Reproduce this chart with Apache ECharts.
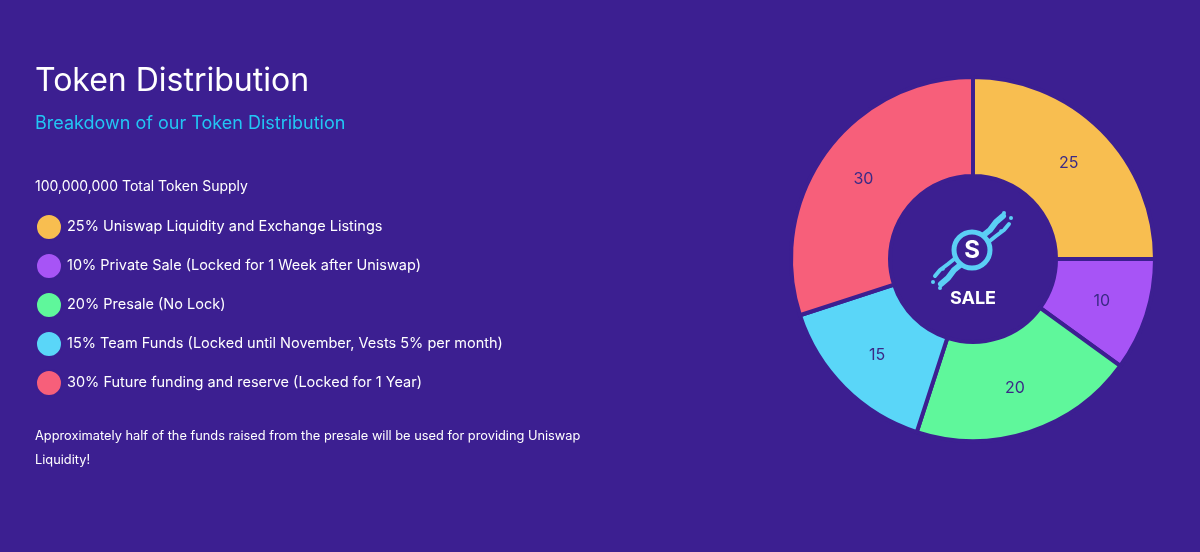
<!DOCTYPE html>
<html>
<head>
<meta charset="utf-8">
<script src="https://cdn.jsdelivr.net/npm/echarts@6/dist/echarts.min.js"></script>
<style>
  html, body { margin: 0; padding: 0; background: #3c1f91; }
  #chart { width: 1200px; height: 552px; }
</style>
</head>
<body>
<div id="chart"></div>
<script>
// ---- data ----
const categories = [
  'Uniswap Liquidity and Exchange Listings',
  'Private Sale (Locked for 1 Week after Uniswap)',
  'Presale (No Lock)',
  'Team Funds (Locked until November, Vests 5% per month)',
  'Future funding and reserve (Locked for 1 Year)'
];
const values = [25, 10, 20, 15, 30];
const colors = ['#f8be50', '#a754f6', '#5ff79b', '#5ad6f8', '#f75f7a'];
const titleText = 'Token Distribution';
const subtitleText = 'Breakdown of our Token Distribution';
const supplyText = '100,000,000 Total Token Supply';
const noteLines = [
  'Approximately half of the funds raised from the presale will be used for providing Uniswap',
  'Liquidity!'
];
const centerLabel = 'SALE';

const BG = '#3c1f91';
const FONT = 'Inter, "Noto Sans", sans-serif';

const chart = echarts.init(document.getElementById('chart'), null, { renderer: 'canvas' });

const pieData = categories.map((c, i) => ({ name: c, value: values[i], itemStyle: { color: colors[i] } }));

const logoX = 972, logoY = 250;
const CY = '#5bcff5';
const trail = (pts, w) => ({
  type: 'polyline', shape: { points: pts },
  style: { stroke: CY, lineWidth: w || 3, fill: null, lineCap: 'round', lineJoin: 'round' }
});
const dot = (x, y, r) => ({ type: 'circle', shape: { cx: x, cy: y, r: r || 2 }, style: { fill: CY } });

const option = {
  backgroundColor: BG,
  animation: false,
  legend: {
    orient: 'vertical',
    left: 35,
    top: 213,
    padding: 0,
    icon: 'circle',
    itemWidth: 26,
    itemHeight: 26,
    itemGap: 11,
    selectedMode: false,
    data: categories,
    formatter: (name) => values[categories.indexOf(name)] + '% ' + name,
    textStyle: { color: '#ffffff', fontSize: 14.5, fontFamily: FONT, lineHeight: 26 }
  },
  series: [{
    type: 'pie',
    center: [973, 259],
    radius: [83, 182],
    startAngle: 90,
    clockwise: true,
    avoidLabelOverlap: false,
    silent: true,
    itemStyle: { borderColor: BG, borderWidth: 4 },
    label: {
      show: true,
      position: 'inside',
      formatter: '{c}',
      color: '#3b2a86',
      fontSize: 16,
      fontFamily: FONT
    },
    labelLine: { show: false },
    emphasis: { disabled: true },
    data: pieData
  }],
  graphic: [
    { type: 'text', left: 35, top: 65, style: { text: titleText, fill: '#ffffff', font: '400 32px ' + FONT } },
    { type: 'text', left: 35, top: 115, style: { text: subtitleText, fill: '#22c6f4', font: '400 18px ' + FONT } },
    { type: 'text', left: 35, top: 180, style: { text: supplyText, fill: '#ffffff', font: '400 14px ' + FONT } },
    { type: 'text', left: 35, top: 430, style: { text: noteLines[0], fill: '#ffffff', font: '400 12.8px ' + FONT } },
    { type: 'text', left: 35, top: 454, style: { text: noteLines[1], fill: '#ffffff', font: '400 12.8px ' + FONT } },
    // center logo
    trail([[980, 238], [990, 230], [996, 222], [1003, 216]], 6),
    trail([[986, 244], [996, 236], [1004, 230], [1009, 224]], 4),
    dot(1004, 213, 2), dot(1011, 218, 2), dot(998, 220, 1.8), dot(1001, 231, 1.8),
    trail([[964, 262], [954, 270], [948, 278], [941, 284]], 6),
    trail([[958, 256], [948, 264], [940, 270], [935, 276]], 4),
    dot(940, 288, 2), dot(933, 282, 2), dot(946, 280, 1.8), dot(943, 269, 1.8),
    { type: 'circle', shape: { cx: logoX, cy: logoY, r: 18 }, style: { fill: BG, stroke: CY, lineWidth: 5 } },
    { type: 'text', x: logoX, y: logoY + 1, style: { text: 'S', fill: '#ffffff', font: 'bold 24px ' + FONT, align: 'center', verticalAlign: 'middle' } },
    { type: 'text', x: 973, y: 299, style: { text: centerLabel, fill: '#ffffff', font: 'bold 18px ' + FONT, align: 'center', verticalAlign: 'middle' } }
  ]
};

chart.setOption(option);
</script>
</body>
</html>
